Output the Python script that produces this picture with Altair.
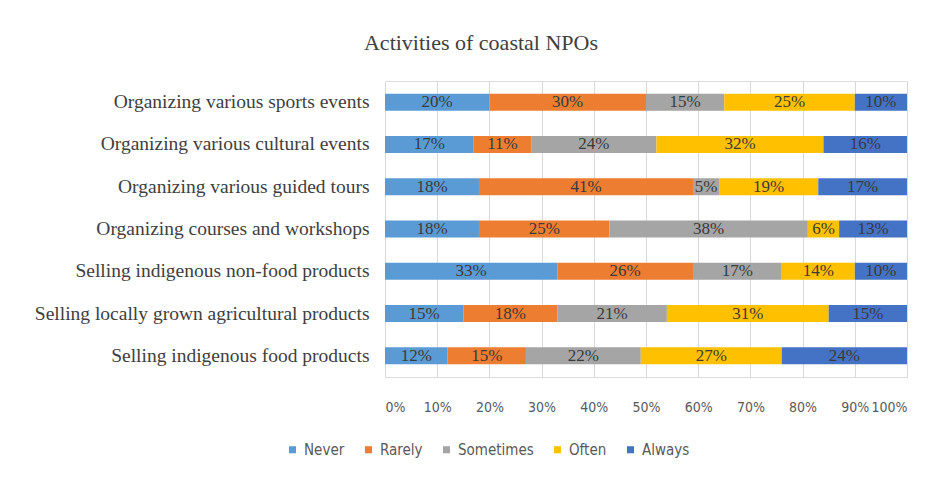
import altair as alt
import pandas as pd

activities = [
    "Organizing various sports events",
    "Organizing various cultural events",
    "Organizing various guided tours",
    "Organizing courses and workshops",
    "Selling indigenous non-food products",
    "Selling locally grown agricultural products",
    "Selling indigenous food products",
]
levels = ["Never", "Rarely", "Sometimes", "Often", "Always"]
colors = ["#5B9BD5", "#ED7D31", "#A5A5A5", "#FFC000", "#4472C4"]

never = [20, 17, 18, 18, 33, 15, 12]
rarely = [30, 11, 41, 25, 26, 18, 15]
sometimes = [15, 24, 5, 38, 17, 21, 22]
often = [25, 32, 19, 6, 14, 31, 27]
always = [10, 16, 17, 13, 10, 15, 24]

series = [never, rarely, sometimes, often, always]
rows = []
for lvl_i, (lvl, vals) in enumerate(zip(levels, series)):
    for act, v in zip(activities, vals):
        rows.append({"activity": act, "level": lvl, "order": lvl_i, "value": v})
df = pd.DataFrame(rows)

SANS = "DejaVu Sans Condensed, DejaVu Sans, sans-serif"
SERIF = "Liberation Serif, serif"

base = alt.Chart(df).transform_stack(
    stack="value",
    as_=["start", "end"],
    groupby=["activity"],
    sort=[alt.SortField("order", order="ascending")],
).transform_calculate(mid="(datum.start + datum.end) / 2", label="datum.value + '%'")

y_enc = alt.Y(
    "activity:N",
    sort=activities,
    title=None,
    scale=alt.Scale(paddingInner=0.6, paddingOuter=0.3),
    axis=alt.Axis(
        labelFont=SERIF,
        labelFontSize=19.5,
        labelColor="#404040",
        labelPadding=16,
        ticks=False,
        domain=False,
        labelLimit=400,
    ),
)

bars = base.mark_bar(size=17).encode(
    x=alt.X(
        "start:Q",
        scale=alt.Scale(domain=[0, 100]),
        title=None,
        axis=alt.Axis(
            values=list(range(0, 101, 10)),
            labelExpr="datum.value + '%'",
            labelFont=SANS,
            labelFontSize=14,
            labelColor="#595959",
            labelPadding=23,
            labelOverlap=False,
            grid=True,
            gridColor="#D9D9D9",
            gridWidth=1,
            ticks=False,
            domain=False,
        ),
    ),
    x2="end:Q",
    y=y_enc,
    color=alt.Color(
        "level:N",
        scale=alt.Scale(domain=levels, range=colors),
        sort=levels,
        legend=alt.Legend(
            title=None,
            orient="none",
            direction="horizontal",
            legendX=-100,
            legendY=361,
            symbolType="square",
            symbolSize=50,
            symbolStrokeWidth=0,
            labelFont=SANS,
            labelFontSize=15,
            labelColor="#595959",
            labelOffset=4,
            columnPadding=16,
        ),
    ),
    order=alt.Order("order:Q"),
)

labels = base.mark_text(
    font=SERIF, fontSize=17, color="#3a3a3a", baseline="middle"
).encode(
    x=alt.X("mid:Q"),
    y=alt.Y("activity:N", sort=activities),
    text="label:N",
)

chart = (
    alt.layer(bars, labels)
    .properties(
        width=522,
        height=296,
        title=alt.TitleParams(
            "Activities of coastal NPOs",
            font=SERIF,
            fontSize=22,
            fontWeight="normal",
            color="#404040",
            anchor="middle",
            dx=-165,
            offset=26,
        ),
        padding={"left": 385, "top": 81, "right": 31, "bottom": 102},
        autosize=alt.AutoSizeParams(type="none"),
    )
    .configure_view(stroke=None)
    .configure(background="white")
)

chart.save("out.html", embed_options={"renderer": "svg", "actions": False})
